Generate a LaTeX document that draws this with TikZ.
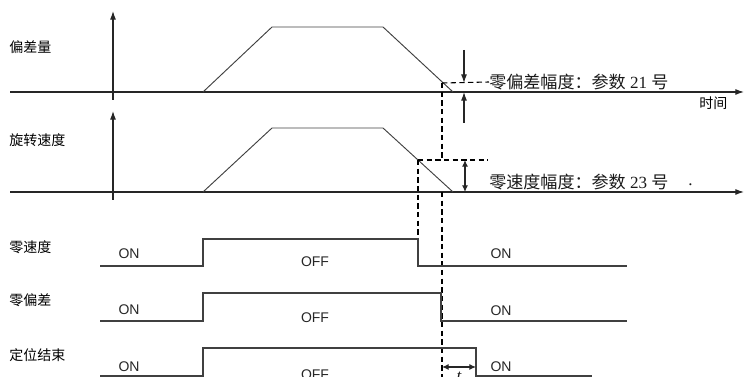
\documentclass[tikz,border=0pt]{standalone}
\usepackage{fontspec}
\setmainfont{Liberation Serif}
\setsansfont{Liberation Sans}
\newfontfamily\cjk{Noto Sans CJK SC}
\usetikzlibrary{positioning, arrows.meta}

\begin{document}
\begin{tikzpicture}[x=0.75pt, y=-0.75pt]
\tikzstyle{axisline} = [line width=0.8pt, draw=black!85]
\tikzstyle{arr} = [axisline, -{Latex[length=6.5pt, width=4.5pt]}]
\tikzstyle{dimarr} = [axisline, {Latex[length=5pt, width=4.5pt]}-{Latex[length=5pt, width=4.5pt]}]
\tikzstyle{wave} = [line width=0.7pt, draw=black!75]
\tikzstyle{rail} = [line width=1pt, draw=black!75]
\tikzstyle{guide} = [line width=0.8pt, dash pattern=on 4pt off 2.5pt, draw=black]
\tikzstyle{signame} = [anchor=west, inner sep=0pt, font=\cjk\fontsize{10.5}{12}\selectfont]
\tikzstyle{sigstate} = [inner sep=0pt, text=black!85, font=\sffamily\fontsize{10.5}{12}\selectfont]
\tikzstyle{param} = [anchor=west, inner sep=0pt, text=black!90, font=\fontsize{12.8}{15}\selectfont]

\useasboundingbox (0,0) rectangle (744,377);
\clip (0,0) rectangle (744,377);

% Axes
\coordinate (ax1l) at (10,92);
\coordinate (ax1r) at (744,92);
\coordinate (ax1b) at (113,100);
\coordinate (ax1t) at (113,11);
\coordinate (ax2l) at (10,192);
\coordinate (ax2r) at (744,192);
\coordinate (ax2b) at (113,200);
\coordinate (ax2t) at (113,111);

% Signal names
\node (dev) [signame] at (9,47) {偏差量};
\node (spd) [signame] at (9,140) {旋转速度};
\node (zspd) [signame] at (9,247) {零速度};
\node (zdev) [signame] at (9,300) {零偏差};
\node (pos) [signame] at (9,355) {定位结束};
\node (time) [signame] at (699,103) {时间};

% Thresholds
\coordinate (lvl21) at (442,83);
\coordinate (lvl23) at (418,160);
\node (par21) [param] at (489,82) {{\cjk 零偏差幅度：参数} 21 {\cjk 号}};
\node (par23) [param] at (489,182) {{\cjk 零速度幅度：参数} 23 {\cjk 号}};
\node (dot) [param] at (688,185) {.};

% States
\node (on1) [sigstate] at (129,254) {ON};
\node (off1) [sigstate] at (315,262) {OFF};
\node (on1r) [sigstate] at (501,254) {ON};
\node (on2) [sigstate] at (129,310) {ON};
\node (off2) [sigstate] at (315,318) {OFF};
\node (on2r) [sigstate] at (501,311) {ON};
\node (on3) [sigstate] at (129,367) {ON};
\node (off3) [sigstate] at (315,375) {OFF};
\node (on3r) [sigstate] at (501,367) {ON};
\node (tpos) [param, anchor=north] at (459,372) {\itshape t};

% Draws
\draw[arr] (ax1l) -- (ax1r);
\draw[arr] (ax1b) -- (ax1t);
\draw[arr] (ax2l) -- (ax2r);
\draw[arr] (ax2b) -- (ax2t);

\draw[wave] (203,92) -- (272,27) -- (383,27) -- (453,92);
\draw[wave] (203,192) -- (272,128) -- (383,128) -- (453,192);

\draw[guide] (lvl21) -- (par21.west);
\draw[guide] (lvl21) -- (442,160);
\draw[guide] (442,192) -- (442,380);
\draw[guide] (lvl23) -- (488,160);
\draw[guide] (lvl23) -- (418,239);

\draw[arr] (464,50) -- (464,83);
\draw[arr] (464,123) -- (464,92);
\draw[dimarr] (465,160) -- (465,192);

\draw[rail] (100,266) -- (203,266) -- (203,239) -- (418,239) -- (418,266) -- (627,266);
\draw[rail] (100,321) -- (203,321) -- (203,293) -- (441,293) -- (441,321) -- (627,321);
\draw[rail] (100,376) -- (203,376) -- (203,348) -- (476,348) -- (476,376) -- (592,376);
\draw[dimarr] (442,367) -- (476,367);
\end{tikzpicture}
\end{document}
